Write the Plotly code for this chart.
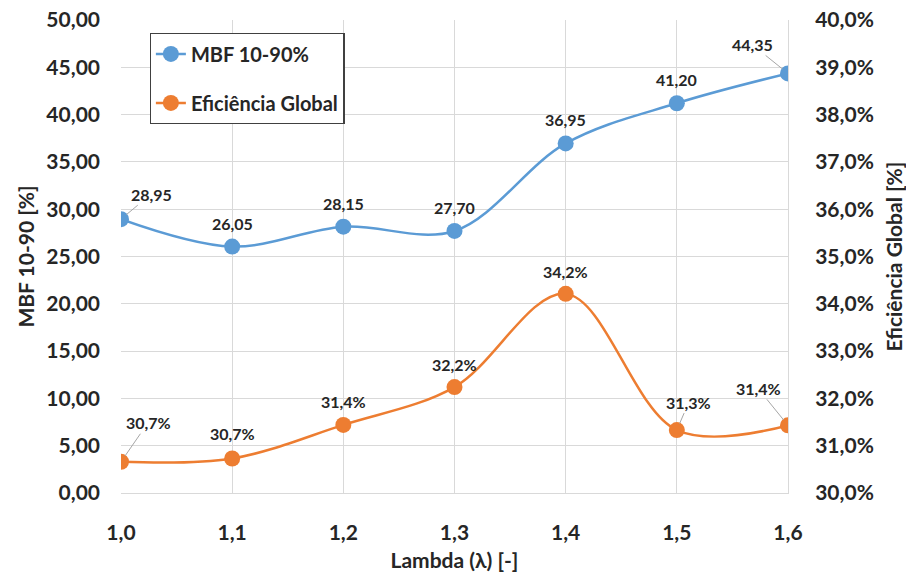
import plotly.graph_objects as go

# Data
lambda_vals = [1.0, 1.1, 1.2, 1.3, 1.4, 1.5, 1.6]
mbf_values = [28.95, 26.05, 28.15, 27.70, 36.95, 41.20, 44.35]
eficiencia_values = [0.3066, 0.3073, 0.3144, 0.3224, 0.3421, 0.3133, 0.3143]
x_tick_labels = ["1,0", "1,1", "1,2", "1,3", "1,4", "1,5", "1,6"]

BLUE = "#5B9BD5"
ORANGE = "#ED7D31"
FONT = "Lato"
TXT = "#262626"

fig = go.Figure()

fig.add_trace(go.Scatter(
    x=lambda_vals, y=mbf_values, name="MBF 10-90%",
    mode="lines+markers", line=dict(color=BLUE, width=2.5, shape="spline", smoothing=1.0),
    marker=dict(size=16, color=BLUE), legendgroup="a", yaxis="y",
))
fig.add_trace(go.Scatter(
    x=lambda_vals, y=eficiencia_values, name="Eficiência Global",
    mode="lines+markers", line=dict(color=ORANGE, width=2.5, shape="spline", smoothing=1.0),
    marker=dict(size=16, color=ORANGE), legendgroup="b", yaxis="y2",
))

def fmt_num(v):
    return f"{v:.2f}".replace(".", ",")

def fmt_pct(v):
    return f"{v*100:.1f}%".replace(".", ",")

# label offsets in pixels: (dx, dy, leader line)
mbf_offsets = [(30, -25, True), (0, -23, False), (0, -23, False), (0, -23, False),
               (0, -24, False), (0, -24, False), (-36, -29, True)]
ef_offsets = [(27, -39, True), (0, -25, False), (0, -23, False), (0, -23, False),
              (0, -22, False), (12, -28, True), (-30, -37, True)]

label_font = dict(family=FONT, size=16, color=TXT, weight="bold")

annotations = []
for series, yref, fmt, offsets in (
    (mbf_values, "y", fmt_num, mbf_offsets),
    (eficiencia_values, "y2", fmt_pct, ef_offsets),
):
    for x, v, (dx, dy, lead) in zip(lambda_vals, series, offsets):
        a = dict(x=x, y=v, xref="x", yref=yref, text=fmt(v), font=label_font)
        if lead:
            a.update(showarrow=True, arrowhead=0, arrowwidth=1, arrowcolor="#A6A6A6",
                     ax=dx, ay=dy, standoff=7)
        else:
            a.update(showarrow=False, xshift=dx, yshift=-dy)
        annotations.append(a)

tick_font = dict(family=FONT, size=21, color=TXT, weight="bold")
title_font = dict(family=FONT, size=21, color=TXT, weight="bold")

fig.update_layout(
    width=906, height=574,
    margin=dict(l=121, r=118, t=20, b=81),
    paper_bgcolor="white", plot_bgcolor="white",
    separators=", ",
    showlegend=True,
    legend=dict(
        x=0.043, y=0.972, xanchor="left", yanchor="top",
        bgcolor="white", bordercolor="#404040", borderwidth=1.2,
        font=dict(family=FONT, size=20, color=TXT, weight="bold"),
        tracegroupgap=20, itemwidth=30,
        entrywidth=190, entrywidthmode="pixels",
    ),
    xaxis=dict(
        range=[1.0, 1.6], tickvals=lambda_vals, ticktext=x_tick_labels,
        showgrid=True, gridcolor="#D9D9D9", gridwidth=1,
        showline=True, linecolor="#D9D9D9", linewidth=1,
        ticks="", tickfont=tick_font, ticklabelstandoff=21,
        title=dict(text="Lambda (λ) [-]", font=title_font, standoff=10),
        zeroline=False, automargin=False,
    ),
    yaxis=dict(
        range=[0, 50], dtick=5, tickformat=".2f",
        showgrid=True, gridcolor="#D9D9D9", gridwidth=1,
        showline=False, ticks="", tickfont=tick_font, ticklabelstandoff=20,
        title=dict(text="MBF 10-90 [%]", font=title_font, standoff=6),
        zeroline=False, automargin=False,
    ),
    yaxis2=dict(
        range=[0.30, 0.40], dtick=0.01, tickformat=".1%",
        overlaying="y", side="right",
        showgrid=False, showline=True, linecolor="#D9D9D9", ticks="",
        tickfont=tick_font, ticklabelstandoff=22,
        title=dict(text="Eficiência Global [%]", font=title_font, standoff=14),
        zeroline=False, automargin=False,
    ),
    annotations=annotations,
)

fig.write_html("out.html")
